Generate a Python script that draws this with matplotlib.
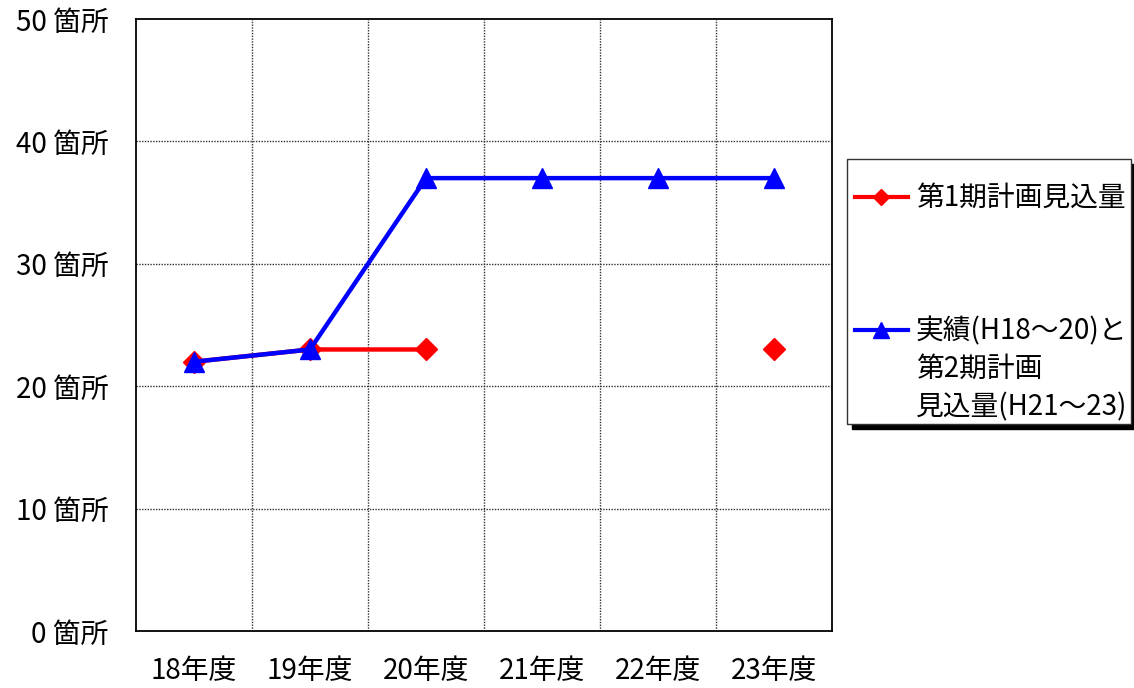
import numpy as np
import matplotlib
matplotlib.use("Agg")
import matplotlib.pyplot as plt
from matplotlib.lines import Line2D
from matplotlib.patches import Rectangle

plt.rcParams['font.family'] = ['Noto Sans CJK JP', 'DejaVu Sans']

years = ["18年度", "19年度", "20年度", "21年度", "22年度", "23年度"]
plan1 = [22, 23, 23, np.nan, np.nan, 23]
actual = [22, 23, 37, 37, 37, 37]
yticks = [0, 10, 20, 30, 40, 50]
ylabels = [f"{v} 箇所" for v in yticks]
leg_labels = ["第1期計画見込量", "実績(H18〜20)と\n第2期計画\n見込量(H21〜23)"]

W, H = 1134, 688
fig = plt.figure(figsize=(W / 100, H / 100), dpi=100)
ax = fig.add_axes([136 / W, 1 - 631 / H, (832 - 136) / W, (631 - 19) / H])

x = np.arange(len(years))
ax.plot(x, plan1, color="#ff0000", lw=3.2, marker="D", ms=11, zorder=3)
ax.plot(x, actual, color="#0000ff", lw=3.2, marker="^", ms=15, zorder=4)

ax.set_xlim(-0.5, len(years) - 0.5)
ax.set_ylim(0, 50)
ax.set_yticks(yticks)
ax.set_yticklabels(ylabels, fontsize=20)
ax.set_xticks(x)
ax.set_xticklabels(years, fontsize=20)
ax.tick_params(axis="y", length=0, pad=20)
ax.tick_params(axis="x", length=0, pad=18)

# dotted grid: horizontal at values, vertical at category boundaries
for v in yticks[1:-1]:
    ax.axhline(v, color="#303030", lw=1.0, ls=(0, (1, 1)), zorder=1)
for b in x[:-1] + 0.5:
    ax.axvline(b, color="#303030", lw=1.0, ls=(0, (1, 1)), zorder=1)
for s in ax.spines.values():
    s.set_linewidth(1.3)
    s.set_color("black")

# legend drawn by hand (black drop shadow, odd spacing)
bx0, by0, bx1, by1 = 847, 159, 1131, 424
fig.add_artist(Rectangle(((bx0 + 5) / W, 1 - (by1 + 5) / H), (bx1 - bx0) / W, (by1 - by0) / H,
                         transform=fig.transFigure, facecolor="black", edgecolor="black", zorder=5))
fig.add_artist(Rectangle((bx0 / W, 1 - by1 / H), (bx1 - bx0) / W, (by1 - by0) / H,
                         transform=fig.transFigure, facecolor="white", edgecolor="#333333", lw=1, zorder=6))
entries = [("#ff0000", "D", 8, 197), ("#0000ff", "^", 11, 330)]
for (c, m, ms, yy), lab in zip(entries, leg_labels):
    fig.add_artist(Line2D([855 / W, 908 / W], [1 - yy / H] * 2, transform=fig.transFigure,
                          color=c, lw=3, zorder=7))
    fig.add_artist(Line2D([881 / W], [1 - yy / H], transform=fig.transFigure,
                          color=c, marker=m, ms=ms, zorder=8))
    fig.text(916 / W, 1 - (yy - 14) / H, lab, fontsize=20, va="top", ha="left",
             linespacing=1.35, zorder=8)

fig.savefig("out.png", dpi=100)
